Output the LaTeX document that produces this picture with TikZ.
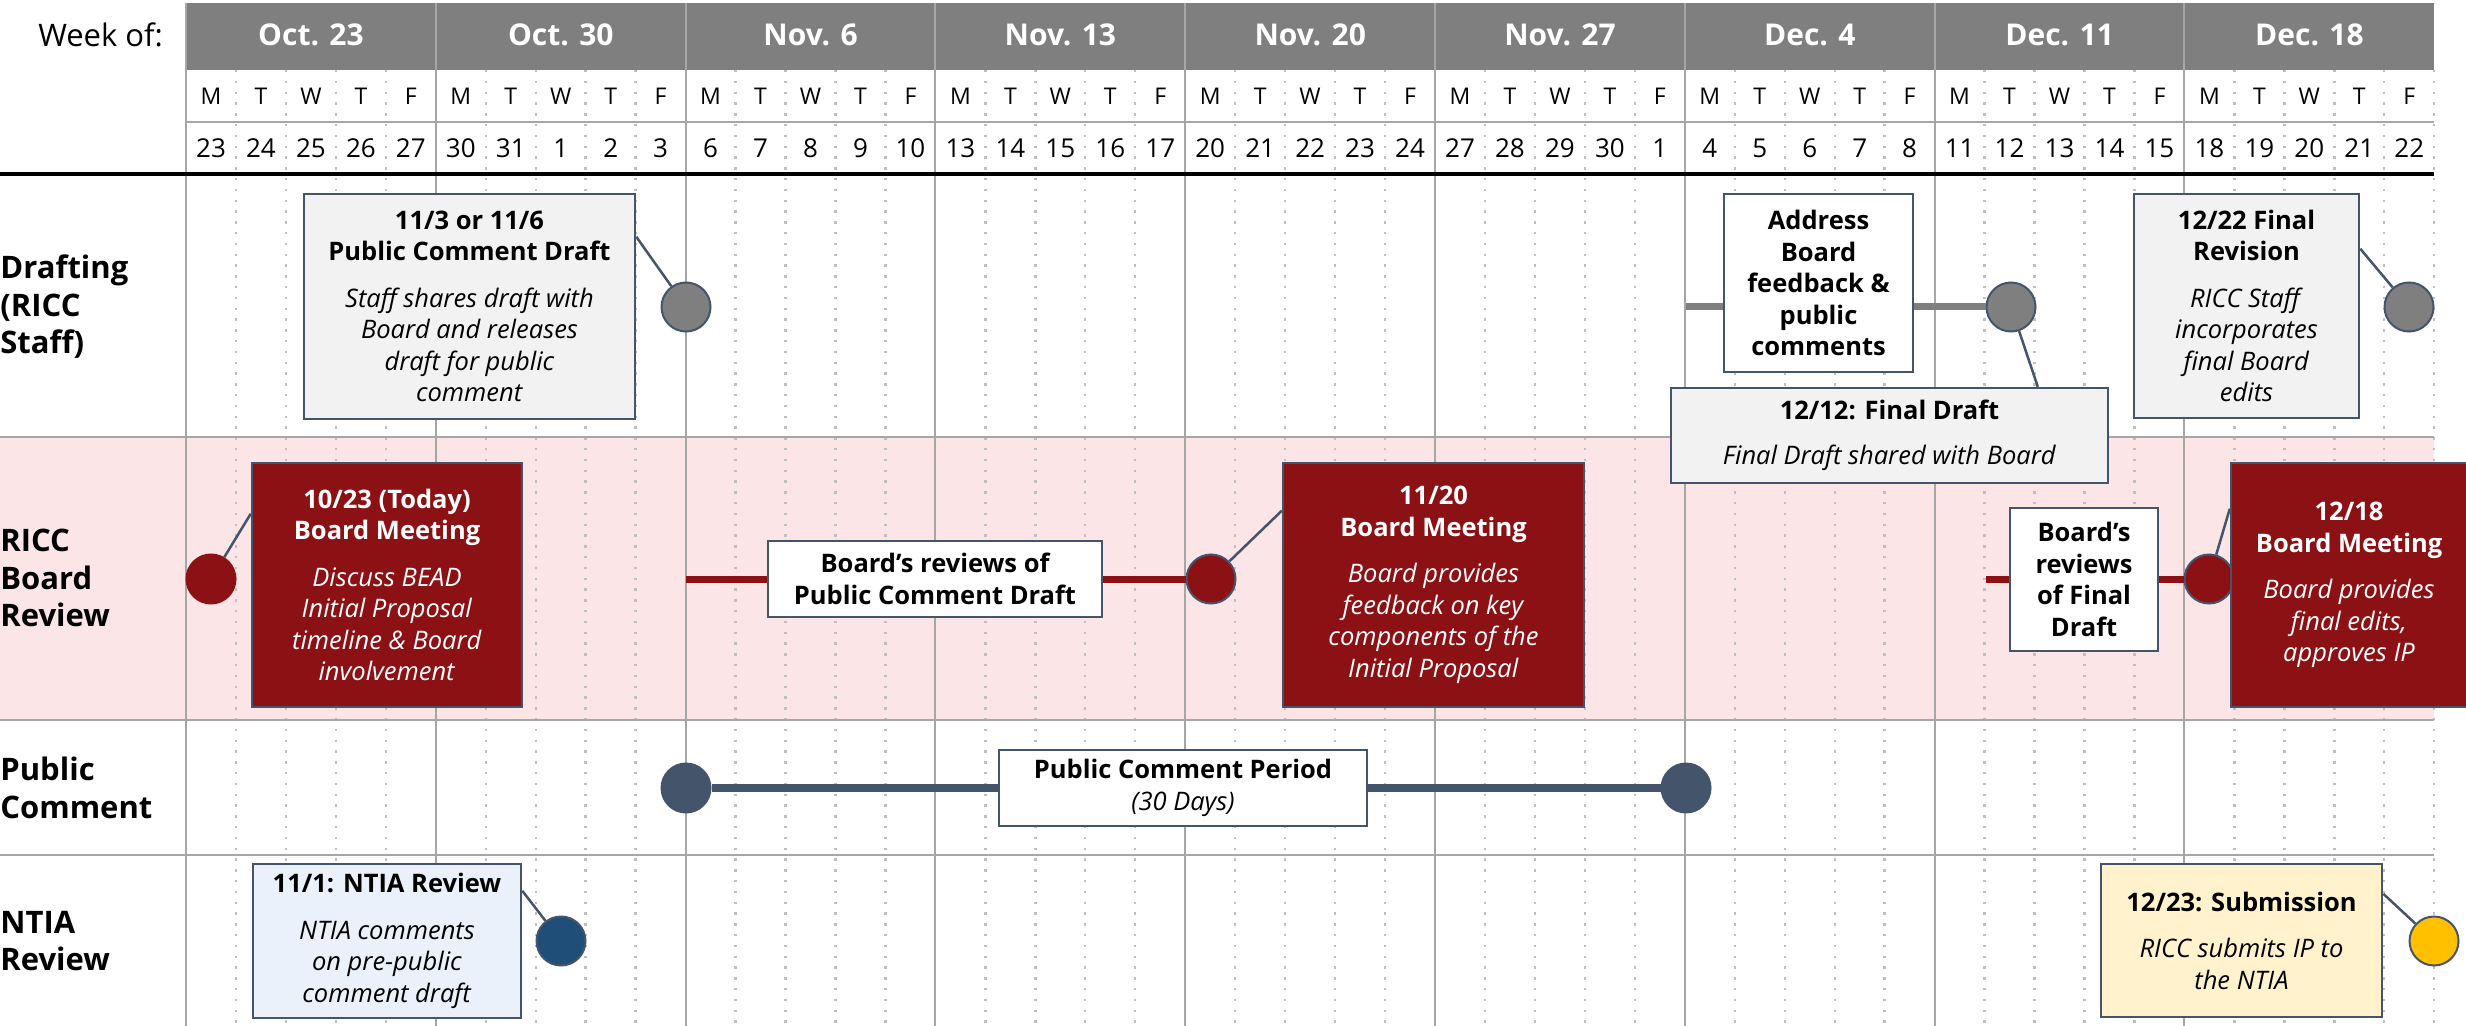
\documentclass[tikz,border=0pt]{standalone}
\usepackage{fontspec}
\setmainfont{Open Sans}
\usetikzlibrary{calc}

\definecolor{hdrgray}{HTML}{7F7F7F}
\definecolor{gridgray}{HTML}{A6A6A6}
\definecolor{dotgray}{HTML}{BFBFBF}
\definecolor{slate}{HTML}{44546A}
\definecolor{boardred}{HTML}{8C1115}
\definecolor{pinkband}{HTML}{FBE5E6}
\definecolor{lightbox}{HTML}{F2F2F2}
\definecolor{ntiabox}{HTML}{EAF1FA}
\definecolor{ntiadot}{HTML}{1F4E79}
\definecolor{subbox}{HTML}{FFF2CC}
\definecolor{subdot}{HTML}{FFC000}

\begin{document}
\begin{tikzpicture}[x=0.5pt,y=-0.5pt,
    weekline/.style={draw=gridgray,line width=1pt},
    dayline/.style={draw=dotgray,line width=1.2pt,dash pattern=on 1.2pt off 4.2pt},
    weektitle/.style={text=white,font=\fontsize{15}{18}\selectfont\bfseries},
    dayletter/.style={font=\fontsize{11.5}{14}\selectfont},
    daynum/.style={font=\fontsize{13}{15}\selectfont},
    rowlabel/.style={anchor=west,align=left,inner sep=0pt,font=\fontsize{15.5}{18.75}\selectfont\bfseries},
    tbox/.style={draw=slate,line width=1.25pt,align=center,inner sep=2pt,font=\fontsize{12.75}{15.75}\selectfont},
    graybox/.style={tbox,fill=lightbox},
    whitebox/.style={tbox,fill=white,font=\fontsize{12.75}{15.75}\selectfont\bfseries},
    redbox/.style={tbox,fill=boardred,text=white},
    milestone/.style={circle,draw=slate,line width=1pt,minimum size=24.5pt,inner sep=0pt},
    callout/.style={draw=slate,line width=1.25pt},
  ]
  \useasboundingbox (0,0) rectangle (2466,1026);

  % background and grid
  \fill[pinkband] (0,437) rectangle (2434,720);
  \fill[hdrgray] (186,3) rectangle (2434,70);
  \foreach \w in {0,...,8}
    \foreach \d in {1,...,4}
      \draw[dayline] ({186+249.8*\w+49.96*\d},70) -- ++(0,956);
  \draw[dayline] (2434,70) -- (2434,1026);
  \foreach \w in {0,...,8}
    \draw[weekline] ({186+249.8*\w},3) -- ({186+249.8*\w},1026);
  \draw[weekline] (186,122) -- (2434,122);
  \draw[weekline] (0,437) -- (2434,437);
  \draw[weekline] (0,720) -- (2434,720);
  \draw[weekline] (0,855) -- (2434,855);
  \draw[line width=1.7pt] (0,174) -- (2434,174);

  % header
  \node[anchor=east,font=\fontsize{15.5}{18}\selectfont] (weekof) at (170,35) {Week of:};
  \foreach \lab [count=\i from 0] in {Oct. 23,Oct. 30,Nov. 6,Nov. 13,Nov. 20,Nov. 27,Dec. 4,Dec. 11,Dec. 18}
    \node[weektitle] (w\i) at ({311+249.8*\i},35) {\lab};
  \foreach \w in {0,...,8}
    \foreach \l [count=\j from 0] in {M,T,W,T,F}
      \node[dayletter] (l\w-\j) at ({211+249.8*\w+49.96*\j},96) {\l};
  \foreach \n [count=\i from 0] in {23,24,25,26,27,30,31,1,2,3,6,7,8,9,10,13,14,15,16,17,20,21,22,23,24,27,28,29,30,1,4,5,6,7,8,11,12,13,14,15,18,19,20,21,22}
    \node[daynum] (n\i) at ({211+49.96*\i},148) {\n};

  % row labels
  \node[rowlabel] (drafting) at (0,307) {Drafting\\(RICC\\Staff)};
  \node[rowlabel] (board) at (0,578) {RICC\\Board\\Review};
  \node[rowlabel] (public) at (0,788) {Public\\Comment};
  \node[rowlabel] (ntia) at (0,941) {NTIA\\Review};

  % milestones
  \node[milestone,fill=hdrgray] (0) at (686,307) {};
  \node[milestone,fill=hdrgray] (1) at (2011,307) {};
  \node[milestone,fill=hdrgray] (2) at (2409,307) {};
  \node[milestone,fill=boardred,draw=boardred] (3) at (211,579) {};
  \node[milestone,fill=boardred] (4) at (1211,579) {};
  \node[milestone,fill=boardred] (5) at (2209,579) {};
  \node[milestone,fill=slate] (6) at (686,788) {};
  \node[milestone,fill=slate] (7) at (1686,788) {};
  \node[milestone,fill=ntiadot] (8) at (561,941) {};
  \node[milestone,fill=subdot] (9) at (2434,941) {};

  \coordinate (g0) at (1686,307);
  \coordinate (r0) at (686,579);
  \coordinate (r1) at (1986,579);
  \draw[hdrgray,line width=3.5pt] (g0) -- (1);
  \draw[boardred,line width=3.5pt] (r0) -- (4);
  \draw[boardred,line width=3.5pt] (r1) -- (5);
  \draw[slate,line width=4pt] (6) -- (7);

  % boxes
  \node[graybox,minimum width=165.5pt,minimum height=112.5pt] (b0) at (469.5,306.5)
    {\textbf{11/3 or 11/6}\\\textbf{Public Comment Draft}\\[7.5pt]\textit{Staff shares draft with}\\\textit{Board and releases}\\\textit{draft for public}\\\textit{comment}};
  \node[whitebox,minimum width=94.5pt,minimum height=89pt] (b1) at (1818.5,283)
    {Address\\Board\\feedback \&\\public\\comments};
  \node[graybox,minimum width=218.5pt,minimum height=47.5pt] (b2) at (1889.5,435.5)
    {\textbf{12/12: Final Draft}\\[7pt]\textit{Final Draft shared with Board}};
  \node[graybox,minimum width=112.5pt,minimum height=112pt] (b3) at (2246.5,306)
    {\textbf{12/22 Final}\\\textbf{Revision}\\[7.5pt]\textit{RICC Staff}\\\textit{incorporates}\\\textit{final Board}\\\textit{edits}};
  \node[redbox,minimum width=135pt,minimum height=122pt] (b4) at (387,585)
    {\textbf{10/23 (Today)}\\\textbf{Board Meeting}\\[7.5pt]\textit{Discuss BEAD}\\\textit{Initial Proposal}\\\textit{timeline \& Board}\\\textit{involvement}};
  \node[whitebox,minimum width=167pt,minimum height=38pt] (b5) at (935,579)
    {Board’s reviews of\\Public Comment Draft};
  \node[redbox,minimum width=150.5pt,minimum height=122pt] (b6) at (1433.5,585)
    {\textbf{11/20}\\\textbf{Board Meeting}\\[7.5pt]\textit{Board provides}\\\textit{feedback on key}\\\textit{components of the}\\\textit{Initial Proposal}};
  \node[whitebox,minimum width=74pt,minimum height=71.5pt] (b7) at (2084,579.5)
    {Board’s\\reviews\\of Final\\Draft};
  \node[redbox,minimum width=118pt,minimum height=122pt] (b8) at (2349,585)
    {\textbf{12/18}\\\textbf{Board Meeting}\\[7.5pt]\textit{Board provides}\\\textit{final edits,}\\\textit{approves IP}};
  \node[tbox,fill=white,minimum width=184pt,minimum height=38pt] (b9) at (1183,788)
    {\textbf{Public Comment Period}\\\textit{(30 Days)}};
  \node[tbox,fill=ntiabox,minimum width=134pt,minimum height=77pt] (b10) at (387,941)
    {\textbf{11/1: NTIA Review}\\[7.5pt]\textit{NTIA comments}\\\textit{on pre-public}\\\textit{comment draft}};
  \node[tbox,fill=subbox,minimum width=140.5pt,minimum height=76.5pt] (b11) at (2241.5,940.5)
    {\textbf{12/23: Submission}\\[7.5pt]\textit{RICC submits IP to}\\\textit{the NTIA}};

  % callouts
  \draw[callout] ($(b0.north east)+(0,44)$) -- (0);
  \draw[callout] (1) -- ($(b2.north west)+(368,0)$);
  \draw[callout] ($(b3.north east)+(0,56)$) -- (2);
  \draw[callout] (3) -- ($(b4.north west)+(0,52)$);
  \draw[callout] (4) -- ($(b6.north west)+(0,49)$);
  \draw[callout] (5) -- ($(b8.north west)+(0,47)$);
  \draw[callout] ($(b10.north east)+(0,28)$) -- (8);
  \draw[callout] ($(b11.north east)+(0,31)$) -- (9);
\end{tikzpicture}
\end{document}
